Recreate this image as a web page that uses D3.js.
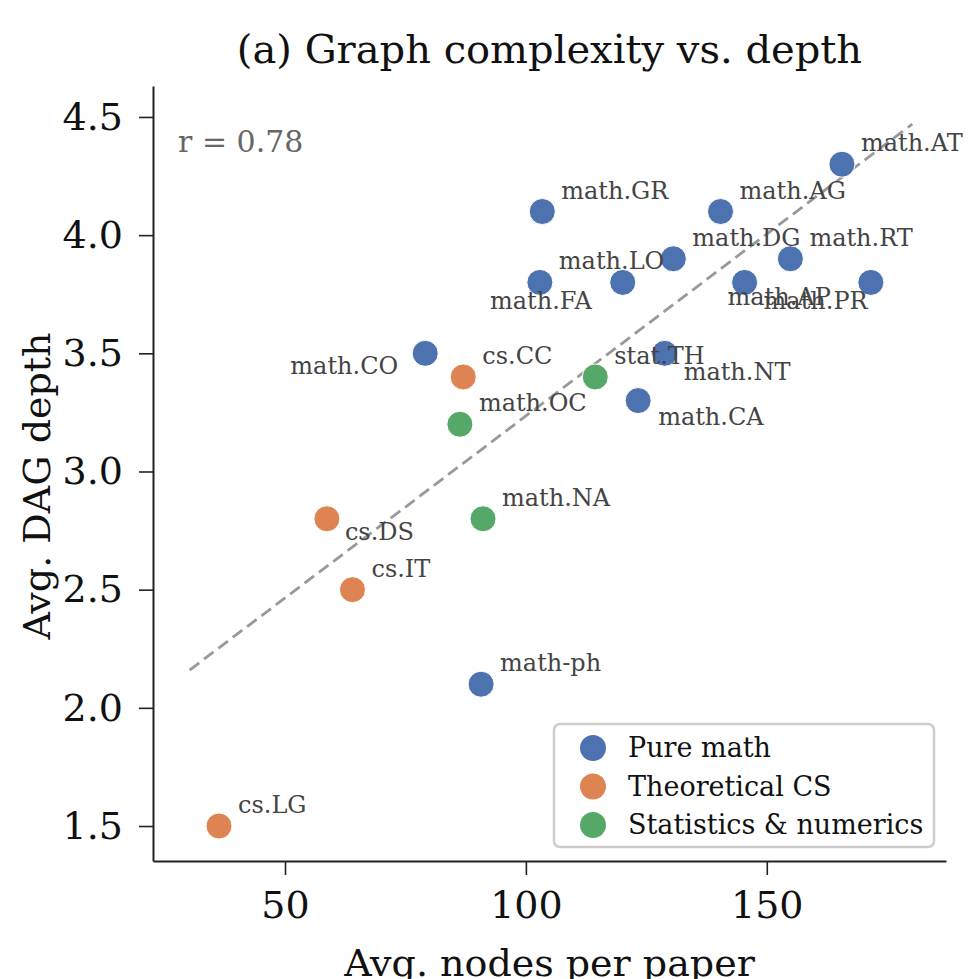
<!DOCTYPE html>
<html>
<head>
<meta charset="utf-8">
<script src="https://cdn.jsdelivr.net/npm/d3@7"></script>
<style>
   body { margin: 0; background: #fff; }
   svg { display: block; font-family: "DejaVu Serif", serif; }
</style>
</head>
<body>
<svg id="chart" width="979" height="979"></svg>
<script>
// ----------------------- data
const names = [
   "math.AT", "math.GR", "math.AG", "math.DG", "math.RT", "math.LO", "math.FA",
   "math.PR", "math.AP", "math.CO", "math.NT", "math.CA", "math-ph",
   "cs.CC", "cs.DS", "cs.IT", "cs.LG",
   "stat.TH", "math.OC", "math.NA"
];
const groups = [
   "Pure math", "Pure math", "Pure math", "Pure math", "Pure math", "Pure math", "Pure math",
   "Pure math", "Pure math", "Pure math", "Pure math", "Pure math", "Pure math",
   "Theoretical CS", "Theoretical CS", "Theoretical CS", "Theoretical CS",
   "Statistics & numerics", "Statistics & numerics", "Statistics & numerics"
];
const avgNodes = [
   165.6, 103.4, 140.4, 130.6, 154.9, 102.9, 120.1,
   145.4, 171.6, 79.1, 128.8, 123.3, 90.7,
   87.0, 58.7, 64.0, 36.3,
   114.4, 86.3, 91.1
];
const avgDepth = [
   4.3, 4.1, 4.1, 3.9, 3.9, 3.8, 3.8,
   3.8, 3.8, 3.5, 3.5, 3.3, 2.1,
   3.4, 2.8, 2.5, 1.5,
   3.4, 3.2, 2.8
];
const groupNames = ["Pure math", "Theoretical CS", "Statistics & numerics"];
const groupColors = ["#4C72B0", "#DD8452", "#55A868"];
const trendX = [30.2, 180.2];
const trendY = [2.16, 4.47];
const rValue = 0.78;
const xTicks = [50, 100, 150];
const yTicks = [1.5, 2.0, 2.5, 3.0, 3.5, 4.0, 4.5];

// label placement relative to the point (px), "end" = right aligned
const labelPos = {
   "math.PR": [19, 27], "math.NT": [19, 27], "math.CA": [20, 24], "cs.DS": [18, 21],
   "math.CO": [-27, 21, "end"], "math.FA": [-31, 27, "end"], "math.AP": [-40, 23, "end"]
};

const points = names.map((n, i) => ({
   name: n, group: groups[i], x: avgNodes[i], y: avgDepth[i]
}));

// ----------------------- layout
const svg = d3.select("#chart");
const margin = { top: 86, right: 33, bottom: 118, left: 153 };
const width = 979 - margin.left - margin.right;
const height = 979 - margin.top - margin.bottom;

const x = d3.scaleLinear().domain([22.6, 187.2]).range([0, width]);
const y = d3.scaleLinear().domain([1.352, 4.631]).range([height, 0]);
const color = d3.scaleOrdinal().domain(groupNames).range(groupColors);

const g = svg.append("g")
   .attr("transform", `translate(${margin.left},${margin.top})`);

// ----------------------- axes
const xAxis = g.append("g")
   .attr("transform", `translate(0,${height})`)
   .call(d3.axisBottom(x).tickValues(xTicks).tickSize(14).tickSizeOuter(0).tickPadding(16));
const yAxis = g.append("g")
   .call(d3.axisLeft(y).tickValues(yTicks).tickFormat(d3.format(".1f"))
      .tickSize(14).tickSizeOuter(0).tickPadding(16));

[xAxis, yAxis].forEach(a => {
   a.select(".domain").attr("stroke", "#222").attr("stroke-width", 2);
   a.selectAll(".tick line").attr("stroke", "#222").attr("stroke-width", 1.6);
   a.selectAll(".tick text")
      .attr("fill", "#111")
      .style("font-family", "DejaVu Serif")
      .style("font-size", "38px");
});

// ----------------------- trend line
g.append("line")
   .attr("x1", x(trendX[0]))
   .attr("y1", y(trendY[0]))
   .attr("x2", x(trendX[1]))
   .attr("y2", y(trendY[1]))
   .attr("stroke", "#999")
   .attr("stroke-width", 2.8)
   .attr("stroke-dasharray", "12,6");

// ----------------------- points
g.selectAll(".dot")
   .data(points)
   .join("circle")
   .attr("class", "dot")
   .attr("cx", d => x(d.x))
   .attr("cy", d => y(d.y))
   .attr("r", 13)
   .attr("fill", d => color(d.group))
   .attr("stroke", "#fff")
   .attr("stroke-width", 1);

// ----------------------- labels
g.selectAll(".lbl")
   .data(points)
   .join("text")
   .attr("class", "lbl")
   .attr("x", d => x(d.x) + (labelPos[d.name] ? labelPos[d.name][0] : 19))
   .attr("y", d => y(d.y) + (labelPos[d.name] ? labelPos[d.name][1] : -13))
   .attr("text-anchor", d => (labelPos[d.name] && labelPos[d.name][2]) || "start")
   .attr("fill", "#444")
   .style("font-size", "24px")
   .text(d => d.name);

// ----------------------- r annotation
g.append("text")
   .attr("x", 25)
   .attr("y", 66)
   .attr("fill", "#666")
   .style("font-size", "30px")
   .text(`r = ${rValue.toFixed(2)}`);

// ----------------------- legend
const legW = 380, legH = 123;
const legend = g.append("g")
   .attr("transform", `translate(${width - legW - 12},${height - legH - 14})`);
legend.append("rect")
   .attr("width", legW)
   .attr("height", legH)
   .attr("rx", 6)
   .attr("fill", "#fff")
   .attr("fill-opacity", 0.85)
   .attr("stroke", "#ccc")
   .attr("stroke-width", 2.5);
const items = legend.selectAll(".item")
   .data(groupNames)
   .join("g")
   .attr("class", "item")
   .attr("transform", (_, i) => `translate(0,${24 + i * 38.5})`);
items.append("circle")
   .attr("cx", 39)
   .attr("r", 13)
   .attr("fill", d => color(d));
items.append("text")
   .attr("x", 74)
   .attr("y", 9)
   .attr("fill", "#111")
   .style("font-size", "27px")
   .text(d => d);

// ----------------------- titles
svg.append("text")
   .attr("x", margin.left + width / 2)
   .attr("y", 63)
   .attr("text-anchor", "middle")
   .attr("fill", "#111")
   .style("font-size", "40px")
   .text("(a) Graph complexity vs. depth");

svg.append("text")
   .attr("x", margin.left + width / 2)
   .attr("y", 976)
   .attr("text-anchor", "middle")
   .attr("fill", "#111")
   .style("font-size", "38px")
   .text("Avg. nodes per paper");

svg.append("text")
   .attr("transform", `translate(50,486) rotate(-90)`)
   .attr("text-anchor", "middle")
   .attr("fill", "#111")
   .style("font-size", "38px")
   .text("Avg. DAG depth");
</script>
</body>
</html>
